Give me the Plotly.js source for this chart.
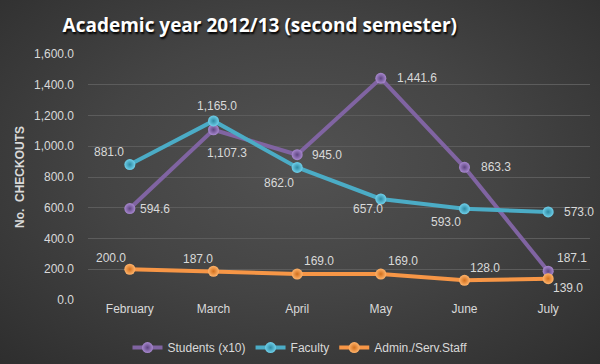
<!DOCTYPE html>
<html><head><meta charset="utf-8">
<script src="https://cdn.plot.ly/plotly-3.0.1.min.js"></script>
<style>
html,body{margin:0;padding:0;}
#chart{width:600px;height:364px;background:radial-gradient(ellipse 75% 80% at 50% 45%, #525252 0%, #444 45%, #2c2c2c 100%);}
</style></head>
<body><div id="chart"></div>
<script>
const months = ["February","March","April","May","June","July"];
const students = [594.6, 1107.3, 945.0, 1441.6, 863.3, 187.1];
const faculty = [881.0, 1165.0, 862.0, 657.0, 593.0, 573.0];
const admin = [200.0, 187.0, 169.0, 169.0, 128.0, 139.0];
const seriesNames = ["Students (x10)", "Faculty", "Admin./Serv.Staff"];
const yTicks = [0,200,400,600,800,1000,1200,1400,1600];

const colors = ["#8064a2", "#4bacc6", "#f79646"];
const markerCenter = ["#a888cf", "#6fd0ea", "#ffb36a"];
const markerEdge = ["#5e4580", "#2f8aa3", "#d2701e"];
// label offsets [xshift, yshift, xanchor]
const offs = [
  [[8,0,'left'],[13,-23,'center'],[13,0,'left'],[14,0,'left'],[14,0,'left'],[24,13,'center']],
  [[-4,13,'right'],[3,15,'center'],[-1,-16,'right'],[-13,-10,'center'],[-19,-13,'center'],[14,0,'left']],
  [[-19,11,'center'],[-16,12,'center'],[22,13,'center'],[22,13,'center'],[20,12,'center'],[20,-9,'center']]
];
const allData = [students, faculty, admin];

const traces = allData.map((d,i)=>({
  type:'scatter', mode:'lines+markers', x:months, y:d, name:seriesNames[i],
  line:{color:colors[i], width:4},
  marker:{size:11, color:markerCenter[i], gradient:{type:'radial', color:markerEdge[i]}, line:{width:0}},
  hoverinfo:'skip'
}));

const annotations = [];
allData.forEach((d,i)=>{
  d.forEach((v,j)=>{
    annotations.push({
      x:months[j], y:v, xref:'x', yref:'y',
      text:v.toLocaleString('en-US',{minimumFractionDigits:1,maximumFractionDigits:1}),
      showarrow:false, xshift:offs[i][j][0], yshift:offs[i][j][1], xanchor:offs[i][j][2], yanchor:'middle',
      font:{family:'Liberation Sans, Arial', size:12, color:'#d9d9d9'}
    });
  });
});

const layout = {
  width:600, height:364,
  paper_bgcolor:'rgba(0,0,0,0)', plot_bgcolor:'rgba(0,0,0,0)',
  margin:{l:88, r:10, t:54, b:64},
  title:{text:'Academic year 2012/13 (second semester)', x:0.433, xanchor:'center', xref:'container',
         y:0.931, yanchor:'middle', yref:'container',
         font:{family:'Open Sans, Liberation Sans', size:19, color:'#ffffff', weight:'bold', shadow:'1px 2px 2px #000'}},
  xaxis:{type:'category', range:[-0.5,5.5], showgrid:false, zeroline:false, showline:false, ticks:'',
         tickfont:{family:'Liberation Sans, Arial', size:12, color:'#d9d9d9'}},
  yaxis:{range:[0,1600], tickvals:yTicks, tickformat:',.1f', showgrid:true, gridcolor:'#5c5c5c', gridwidth:1,
         zeroline:false, showline:false, ticks:'', ticklabelstandoff:13,
         tickfont:{family:'Liberation Sans, Arial', size:12, color:'#d9d9d9'},
         title:{text:'No.  CHECKOUTS', standoff:6, font:{family:'Liberation Sans, Arial', size:12, color:'#d9d9d9', weight:'bold'}}},
  showlegend:true,
  legend:{orientation:'h', x:0.5, xref:'container', xanchor:'center', y:0.045, yref:'container', yanchor:'middle',
          font:{family:'Liberation Sans, Arial', size:12, color:'#d9d9d9'}, bgcolor:'rgba(0,0,0,0)', itemwidth:30},
  annotations:annotations
};
Plotly.newPlot('chart', traces, layout, {displayModeBar:false, staticPlot:true});
</script></body></html>
